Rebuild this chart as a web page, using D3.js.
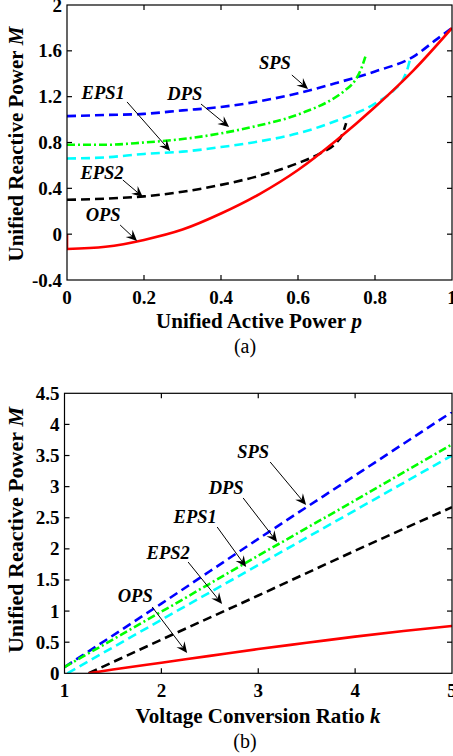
<!DOCTYPE html>
<html><head><meta charset="utf-8">
<script src="https://cdn.jsdelivr.net/npm/d3@7"></script>
<style>
html,body{margin:0;padding:0;background:#fff;}
svg{display:block;}
text{font-family:"Liberation Serif","Times New Roman",serif;}
</style></head>
<body>
<svg id="c" width="453" height="756"></svg>
<script>
// ---------- Data: chart (a) ----------
const aXTicks = [0, 0.2, 0.4, 0.6, 0.8, 1];
const aXTickLabels = ["0", "0.2", "0.4", "0.6", "0.8", "1"];
const aYTicks = [-0.4, 0, 0.4, 0.8, 1.2, 1.6, 2];
const aYTickLabels = ["-0.4", "0", "0.4", "0.8", "1.2", "1.6", "2"];

const aSPS_p = [0, 0.1, 0.2, 0.3, 0.4, 0.5, 0.6, 0.7, 0.8, 0.9, 0.96, 1.0];
const aSPS_M = [1.03, 1.04, 1.05, 1.08, 1.11, 1.16, 1.23, 1.32, 1.42, 1.55, 1.70, 1.80];
const aDPS_p = [0, 0.1, 0.2, 0.3, 0.4, 0.5, 0.57, 0.62, 0.68, 0.72, 0.75, 0.765, 0.775];
const aDPS_M = [0.78, 0.78, 0.80, 0.83, 0.88, 0.95, 1.01, 1.07, 1.16, 1.25, 1.35, 1.45, 1.55];
const aEPS1_p = [0, 0.1, 0.2, 0.3, 0.4, 0.5, 0.6, 0.7, 0.8, 0.85, 0.873, 0.885, 0.892];
const aEPS1_M = [0.66, 0.67, 0.70, 0.72, 0.76, 0.81, 0.88, 0.99, 1.14, 1.26, 1.35, 1.45, 1.54];
const aEPS2_p = [0, 0.1, 0.2, 0.3, 0.4, 0.5, 0.6, 0.66, 0.7, 0.715, 0.725];
const aEPS2_M = [0.30, 0.31, 0.33, 0.37, 0.43, 0.51, 0.62, 0.71, 0.80, 0.87, 0.97];
const aOPS_p = [0, 0, 0.1, 0.2, 0.3, 0.4, 0.5, 0.6, 0.7, 0.8, 0.9, 1.0];
const aOPS_M = [0, -0.13, -0.11, -0.05, 0.04, 0.18, 0.35, 0.56, 0.82, 1.11, 1.43, 1.80];

// ---------- Data: chart (b) ----------
const bXTicks = [1, 2, 3, 4, 5];
const bXTickLabels = ["1", "2", "3", "4", "5"];
const bYTicks = [0, 0.5, 1, 1.5, 2, 2.5, 3, 3.5, 4, 4.5];
const bYTickLabels = ["0", "0.5", "1", "1.5", "2", "2.5", "3", "3.5", "4", "4.5"];

const bSPS_k = [1, 2, 3, 4, 5];
const bSPS_M = [0.1, 1.12, 2.16, 3.18, 4.2];
const bDPS_k = [1, 2, 3, 4, 5];
const bDPS_M = [0.1, 0.99, 1.89, 2.78, 3.68];
const bEPS1_k = [1.03, 2, 3, 4, 5];
const bEPS1_M = [0, 0.86, 1.74, 2.62, 3.50];
const bEPS2_k = [1.25, 2, 3, 4, 5];
const bEPS2_M = [0, 0.54, 1.25, 1.97, 2.67];
const bOPS_k = [1.25, 1.5, 2, 2.5, 3, 3.5, 4, 4.5, 5];
const bOPS_M = [0, 0.06, 0.17, 0.28, 0.39, 0.49, 0.59, 0.68, 0.76];

// annotation labels with text anchor & arrow (data units)
const aLabels = ["SPS", "DPS", "EPS1", "EPS2", "OPS"];
const aLabelPos = [[0.540, 1.494], [0.306, 1.223], [0.094, 1.232], [0.091, 0.534], [0.094, 0.168]];
const aArrowFrom = [[0.584, 1.389], [0.348, 1.136], [0.156, 1.154], [0.145, 0.473], [0.138, 0.080]];
const aArrowTo = [[0.626, 1.267], [0.421, 0.935], [0.268, 0.726], [0.197, 0.325], [0.182, -0.059]];

const bLabels = ["SPS", "DPS", "EPS1", "EPS2", "OPS"];
const bLabelPos = [[2.947, 3.558], [2.669, 2.98], [2.349, 2.512], [2.070, 1.933], [1.730, 1.242]];
const bArrowFrom = [[3.123, 3.396], [2.844, 2.818], [2.576, 2.351], [2.276, 1.788], [1.905, 1.066]];
const bArrowTo = [[3.494, 2.705], [3.195, 2.11], [2.875, 1.708], [2.627, 1.114], [2.266, 0.326]];

// ---------- Drawing ----------
const svg = d3.select("#c");
const zip = (xs, ys) => xs.map((x, i) => [x, ys[i]]);

const styles = {
  SPS: {color: "#0000ff", dash: "9,5"},
  DPS: {color: "#00ff00", dash: "8,3,2,3"},
  EPS1: {color: "#00ffff", dash: "9,5"},
  EPS2: {color: "#000000", dash: "9,5"},
  OPS: {color: "#ff0000", dash: null}
};

function drawPanel(cfg) {
  const x = d3.scaleLinear().domain(cfg.xDomain).range(cfg.xRange);
  const y = d3.scaleLinear().domain(cfg.yDomain).range(cfg.yRange);
  const g = svg.append("g");
  const [x0, x1] = cfg.xRange, [y0, y1] = cfg.yRange;

  const clipId = "clip" + cfg.id;
  svg.append("clipPath").attr("id", clipId).append("rect")
    .attr("x", x0).attr("y", y1).attr("width", x1 - x0).attr("height", y0 - y1);

  const lineG = g.append("g").attr("clip-path", `url(#${clipId})`);
  cfg.series.forEach(s => {
    const st = styles[s.name];
    const mk = c => d3.line().x(d => x(d[0])).y(d => y(d[1])).curve(c);
    if (s.name === "OPS" && cfg.id === "a") {
      lineG.append("path").attr("d", mk(d3.curveLinear)(s.pts.slice(0, 2)))
        .attr("fill", "none").attr("stroke", st.color).attr("stroke-width", 2.6);
      lineG.append("path").attr("d", mk(d3.curveMonotoneX)(s.pts.slice(1)))
        .attr("fill", "none").attr("stroke", st.color).attr("stroke-width", 2.6);
    } else {
      lineG.append("path").attr("d", mk(d3.curveMonotoneX)(s.pts))
        .attr("fill", "none").attr("stroke", st.color).attr("stroke-width", 2.6)
        .attr("stroke-dasharray", st.dash);
    }
  });

  g.append("rect").attr("x", x0).attr("y", y1).attr("width", x1 - x0).attr("height", y0 - y1)
    .attr("fill", "none").attr("stroke", "#000").attr("stroke-width", 1.2);

  const tl = 5;
  cfg.xTicks.forEach((t, i) => {
    const px = x(t);
    if (i > 0 && i < cfg.xTicks.length - 1) {
      g.append("line").attr("x1", px).attr("x2", px).attr("y1", y0).attr("y2", y0 - tl).attr("stroke", "#000").attr("stroke-width", 1.2);
      g.append("line").attr("x1", px).attr("x2", px).attr("y1", y1).attr("y2", y1 + tl).attr("stroke", "#000").attr("stroke-width", 1.2);
    }
    g.append("text").attr("x", px).attr("y", y0 + 24).attr("text-anchor", "middle")
      .attr("font-size", 19).attr("font-weight", "bold").text(cfg.xTickLabels[i]);
  });
  cfg.yTicks.forEach((t, i) => {
    const py = y(t);
    if (i > 0 && i < cfg.yTicks.length - 1) {
      g.append("line").attr("x1", x0).attr("x2", x0 + tl).attr("y1", py).attr("y2", py).attr("stroke", "#000").attr("stroke-width", 1.2);
      g.append("line").attr("x1", x1).attr("x2", x1 - tl).attr("y1", py).attr("y2", py).attr("stroke", "#000").attr("stroke-width", 1.2);
    }
    g.append("text").attr("x", x0 - 5).attr("y", py + 6.5).attr("text-anchor", "end")
      .attr("font-size", 19).attr("font-weight", "bold").text(cfg.yTickLabels[i]);
  });

  const xt = g.append("text").attr("x", cfg.xTitlePos[0]).attr("y", cfg.xTitlePos[1])
    .attr("text-anchor", "middle").attr("font-size", 21).attr("font-weight", "bold");
  xt.append("tspan").text(cfg.xTitle);
  xt.append("tspan").attr("font-style", "italic").text(" " + cfg.xVar);

  const yt = g.append("text").attr("transform", `translate(${cfg.yTitlePos[0]},${cfg.yTitlePos[1]}) rotate(-90)`)
    .attr("text-anchor", "middle").attr("font-size", cfg.yTitleSize).attr("font-weight", "bold");
  yt.append("tspan").text("Unified Reactive Power");
  yt.append("tspan").attr("font-style", "italic").text(" M");

  g.append("text").attr("x", cfg.capPos[0]).attr("y", cfg.capPos[1]).attr("text-anchor", "middle")
    .attr("font-size", 20).text(cfg.caption);

  cfg.labels.forEach((lab, i) => {
    g.append("text").attr("x", x(cfg.labelPos[i][0])).attr("y", y(cfg.labelPos[i][1]) + 6)
      .attr("text-anchor", "middle").attr("font-size", 18.5).attr("font-weight", "bold")
      .attr("font-style", "italic").text(lab);
    const ax0 = x(cfg.arrowFrom[i][0]), ay0 = y(cfg.arrowFrom[i][1]);
    const ax1 = x(cfg.arrowTo[i][0]), ay1 = y(cfg.arrowTo[i][1]);
    const ang = Math.atan2(ay1 - ay0, ax1 - ax0);
    const L = 11, W = 5, notch = 7;
    const ux = Math.cos(ang), uy = Math.sin(ang);
    const nx = -uy, ny = ux;
    const bx = ax1 - ux * L, by = ay1 - uy * L;
    const cx = ax1 - ux * notch, cy = ay1 - uy * notch;
    g.append("line").attr("x1", ax0).attr("y1", ay0).attr("x2", cx).attr("y2", cy)
      .attr("stroke", "#000").attr("stroke-width", 1);
    g.append("path").attr("d", `M${ax1},${ay1}L${bx + nx * W},${by + ny * W}L${cx},${cy}L${bx - nx * W},${by - ny * W}Z`)
      .attr("fill", "#000");
  });
}

drawPanel({
  id: "a", xDomain: [0, 1], xRange: [67, 452], yDomain: [-0.4, 2], yRange: [280, 5],
  xTicks: aXTicks, xTickLabels: aXTickLabels, yTicks: aYTicks, yTickLabels: aYTickLabels,
  series: [
    {name: "SPS", pts: zip(aSPS_p, aSPS_M)},
    {name: "DPS", pts: zip(aDPS_p, aDPS_M)},
    {name: "EPS1", pts: zip(aEPS1_p, aEPS1_M)},
    {name: "EPS2", pts: zip(aEPS2_p, aEPS2_M)},
    {name: "OPS", pts: zip(aOPS_p, aOPS_M)}
  ],
  xTitle: "Unified Active Power", xVar: "p", xTitlePos: [259, 328],
  yTitlePos: [23, 144], yTitleSize: 21, caption: "(a)", capPos: [245, 353],
  labels: aLabels, labelPos: aLabelPos, arrowFrom: aArrowFrom, arrowTo: aArrowTo
});

drawPanel({
  id: "b", xDomain: [1, 5], xRange: [64.5, 452], yDomain: [0, 4.5], yRange: [673.3, 393.3],
  xTicks: bXTicks, xTickLabels: bXTickLabels, yTicks: bYTicks, yTickLabels: bYTickLabels,
  series: [
    {name: "SPS", pts: zip(bSPS_k, bSPS_M)},
    {name: "DPS", pts: zip(bDPS_k, bDPS_M)},
    {name: "EPS1", pts: zip(bEPS1_k, bEPS1_M)},
    {name: "EPS2", pts: zip(bEPS2_k, bEPS2_M)},
    {name: "OPS", pts: zip(bOPS_k, bOPS_M)}
  ],
  xTitle: "Voltage Conversion Ratio", xVar: "k", xTitlePos: [258, 723],
  yTitlePos: [23, 530], yTitleSize: 22, caption: "(b)", capPos: [245, 748],
  labels: bLabels, labelPos: bLabelPos, arrowFrom: bArrowFrom, arrowTo: bArrowTo
});
</script>
</body></html>
